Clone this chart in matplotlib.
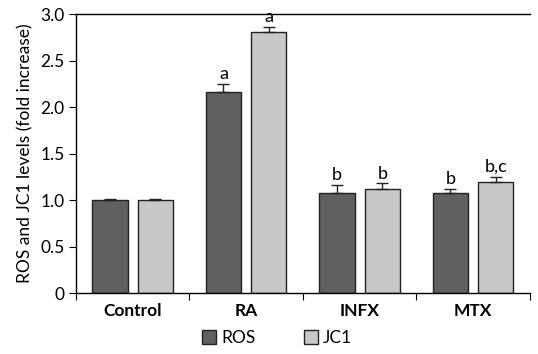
import numpy as np
import matplotlib.pyplot as plt
from matplotlib.patches import Patch

plt.rcParams['font.family'] = ['Lato', 'DejaVu Sans']

# data
groups = ['Control', 'RA', 'INFX', 'MTX']
ros = [1.00, 2.16, 1.075, 1.08]
ros_err = [0.01, 0.09, 0.085, 0.04]
jc1 = [1.00, 2.81, 1.12, 1.19]
jc1_err = [0.01, 0.05, 0.06, 0.06]
ros_letters = ['', 'a', 'b', 'b']
jc1_letters = ['', 'a', 'b', 'b,c']

dark = '#606060'
light = '#c8c8c8'

fig = plt.figure(figsize=(5.38, 3.54), dpi=100)
ax = fig.add_axes([0.141, 0.172, 0.844, 0.788])

x = np.arange(len(groups)) + 0.5
w = 0.31
off = 0.2
ax.bar(x - off, ros, w, color=dark, edgecolor='#222222', linewidth=1.0)
ax.bar(x + off, jc1, w, color=light, edgecolor='#222222', linewidth=1.0)
ax.errorbar(x - off, ros, yerr=[np.zeros(4), ros_err], fmt='none',
            ecolor='#222222', elinewidth=1.0, capsize=4, capthick=1.0)
ax.errorbar(x + off, jc1, yerr=[np.zeros(4), jc1_err], fmt='none',
            ecolor='#222222', elinewidth=1.0, capsize=4, capthick=1.0)

for xi, v, e, t in zip(x - off, ros, ros_err, ros_letters):
    if t:
        ax.text(xi, v + e + 0.02, t, ha='center', va='bottom', fontsize=13)
for xi, v, e, t in zip(x + off, jc1, jc1_err, jc1_letters):
    if t:
        ax.text(xi, v + e + 0.02, t, ha='center', va='bottom', fontsize=13)

ax.set_xlim(0, 4)
ax.set_ylim(0, 3.0)
ax.set_yticks([0, 0.5, 1.0, 1.5, 2.0, 2.5, 3.0])
ax.set_yticklabels(['0', '0.5', '1.0', '1.5', '2.0', '2.5', '3.0'], fontsize=12.5)
ax.set_xticks([0, 1, 2, 3, 4])
ax.set_xticklabels([])
ax.set_xticks(x, minor=True)
ax.set_xticklabels(groups, minor=True, fontsize=12.5, fontweight='bold')
ax.tick_params(axis='x', which='minor', length=0, pad=7)
ax.tick_params(axis='x', which='major', length=5, direction='out')
ax.tick_params(axis='y', length=5, direction='out', pad=3)
ax.set_ylabel('ROS and JC1 levels (fold increase)', fontsize=12.5, labelpad=5)

ax.spines['right'].set_visible(False)
for s in ['top', 'left', 'bottom']:
    ax.spines[s].set_linewidth(1.0)

handles = [Patch(facecolor=dark, edgecolor='#222222', label='ROS'),
           Patch(facecolor=light, edgecolor='#222222', label='JC1')]
fig.legend(handles=handles, loc='center', bbox_to_anchor=(0.515, 0.045), ncol=2,
           frameon=False, fontsize=12.5, handlelength=0.8, handleheight=0.8,
           handletextpad=0.3, columnspacing=2.8)

fig.savefig('out.png', dpi=100)
